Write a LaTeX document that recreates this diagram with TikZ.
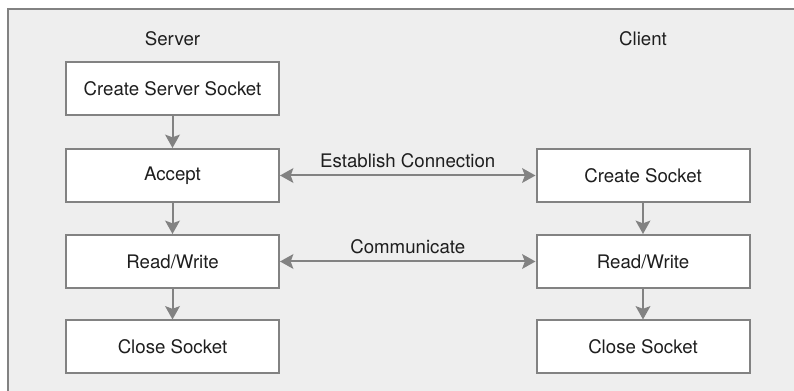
\documentclass[tikz,border=0pt]{standalone}
\usepackage{fontspec}
\setmainfont{TeX Gyre Heros}
\usetikzlibrary{arrows.meta}
\definecolor{linegray}{HTML}{828282}
\definecolor{bggray}{HTML}{EEEEEE}
\definecolor{inkblack}{HTML}{1E1E1E}
\tikzset{
  stepbox/.style={draw=linegray, line width=1.5pt, fill=white, inner sep=0pt,
    minimum width=159.75pt, minimum height=39.75pt,
    font=\fontsize{14}{16}\selectfont, text=inkblack},
  sidelabel/.style={font=\fontsize{14}{16}\selectfont, text=inkblack},
  flow/.style={draw=linegray, line width=1.5pt, -{Stealth[length=10pt,width=11pt,inset=2pt]}},
  twoway/.style={flow, {Stealth[length=10pt,width=11pt,inset=2pt]}-{Stealth[length=10pt,width=11pt,inset=2pt]}},
}
\begin{document}
\begin{tikzpicture}[x=0.75pt,y=-0.75pt]
    \useasboundingbox (0,0) rectangle (794,391);
    % frame
    \fill[bggray] (8,9) rectangle (794,391);
    \draw[linegray, line width=1.5pt] (8,391) -- (8,9) -- (794,9);
    % titles
    \node[sidelabel] (server) at (172.5,39) {Server};
    \node[sidelabel] (client) at (643,39) {Client};
    % server side
    \node[stepbox] (create) at (172.5,88.5) {Create Server Socket};
    \node[stepbox] (accept) at (172.5,175.5) {Accept};
    \node[stepbox] (srw) at (172.5,261.5) {Read/Write};
    \node[stepbox] (sclose) at (172.5,347) {Close Socket};
    % client side
    \node[stepbox] (csock) at (643,175.5) {Create Socket};
    \node[stepbox] (crw) at (643,261.5) {Read/Write};
    \node[stepbox] (cclose) at (643,347) {Close Socket};
    % arrows
    \draw[flow] (create) -- (accept);
    \draw[flow] (accept) -- (srw);
    \draw[flow] (srw) -- (sclose);
    \draw[flow] (csock) -- (crw);
    \draw[flow] (crw) -- (cclose);
    \draw[twoway] (accept) -- node[sidelabel, above=1.5pt]{Establish Connection} (csock);
    \draw[twoway] (srw) -- node[sidelabel, above=1.5pt]{Communicate} (crw);
\end{tikzpicture}
\end{document}
